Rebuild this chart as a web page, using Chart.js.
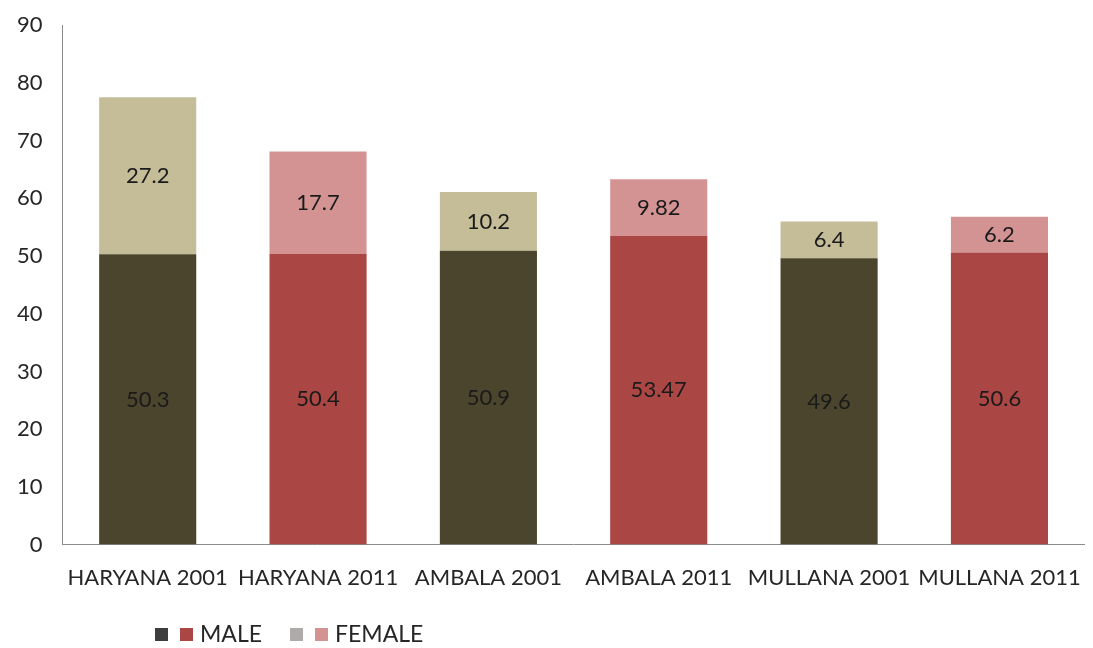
<!DOCTYPE html>
<html>
<head>
<meta charset="utf-8">
<script src="https://cdn.jsdelivr.net/npm/chart.js@4"></script>
<style>
  html, body { margin: 0; padding: 0; background: #fff; }
  #wrap { width: 1093px; height: 648px; }
</style>
</head>
<body>
<div id="wrap"><canvas id="chart" width="1093" height="648"></canvas></div>
<script>
const categories = ['HARYANA 2001', 'HARYANA 2011', 'AMBALA 2001', 'AMBALA 2011', 'MULLANA 2001', 'MULLANA 2011'];
const maleValues = [50.3, 50.4, 50.9, 53.47, 49.6, 50.6];
const femaleValues = [27.2, 17.7, 10.2, 9.82, 6.4, 6.2];
const maleColors = ['#4a452c', '#aa4643', '#4a452c', '#aa4643', '#4a452c', '#aa4643'];
const femaleColors = ['#c4bd97', '#d49393', '#c4bd97', '#d49393', '#c4bd97', '#d49393'];
const legendItems = [
  { label: 'MALE', colors: ['#3d3d3d', '#aa4643'] },
  { label: 'FEMALE', colors: ['#aeaaaa', '#d49393'] }
];

const FONT = 'Lato, "Open Sans", sans-serif';

// draw each value in the middle of its segment
const valueLabels = {
  id: 'valueLabels',
  afterDatasetsDraw(chart) {
    const ctx = chart.ctx;
    ctx.save();
    ctx.font = '22px ' + FONT;
    ctx.fillStyle = '#1a1a1a';
    ctx.textAlign = 'center';
    ctx.textBaseline = 'middle';
    chart.data.datasets.forEach((ds, i) => {
      chart.getDatasetMeta(i).data.forEach((bar, j) => {
        const mid = (bar.y + bar.base) / 2;
        ctx.fillText(String(ds.data[j]), bar.x, mid);
      });
    });
    ctx.restore();
  }
};

// legend with two swatches per series, like the original
const pairLegend = {
  id: 'pairLegend',
  afterDraw(chart) {
    const ctx = chart.ctx;
    ctx.save();
    ctx.font = '23px ' + FONT;
    ctx.textBaseline = 'middle';
    let x = 155;
    const y = 635;
    legendItems.forEach(item => {
      item.colors.forEach(c => {
        ctx.fillStyle = c;
        ctx.fillRect(x, y - 7, 13, 13);
        x += 25;
      });
      ctx.fillStyle = '#262626';
      ctx.fillText(item.label, x - 5, y);
      x += ctx.measureText(item.label).width + 23;
    });
    ctx.restore();
  }
};

new Chart(document.getElementById('chart').getContext('2d'), {
  type: 'bar',
  data: {
    labels: categories,
    datasets: [
      { label: 'MALE', data: maleValues, backgroundColor: maleColors, stack: 's' },
      { label: 'FEMALE', data: femaleValues, backgroundColor: femaleColors, stack: 's' }
    ]
  },
  options: {
    responsive: false,
    animation: false,
    layout: { padding: { top: -5, right: 4, bottom: 45, left: 5 } },
    datasets: { bar: { categoryPercentage: 1, barPercentage: 0.57 } },
    plugins: { legend: { display: false }, tooltip: { enabled: false } },
    scales: {
      x: {
        stacked: true,
        grid: { display: false },
        border: { display: true, color: '#8c8c8c', width: 1 },
        ticks: { color: '#262626', font: { family: FONT, size: 22 }, padding: 12, maxRotation: 0, autoSkip: false }
      },
      y: {
        stacked: true,
        min: 0,
        max: 90,
        grid: { display: false },
        border: { display: true, color: '#8c8c8c', width: 1 },
        ticks: { stepSize: 10, color: '#262626', font: { family: FONT, size: 22 }, padding: 12 }
      }
    }
  },
  plugins: [valueLabels, pairLegend]
});
</script>
</body>
</html>
